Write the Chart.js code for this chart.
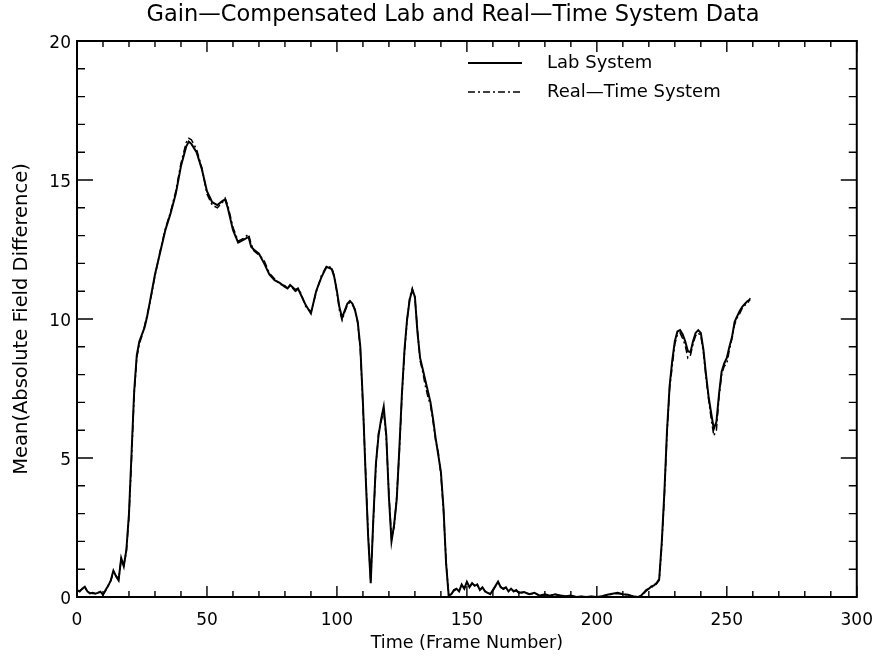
<!DOCTYPE html>
<html><head><meta charset="utf-8">
<script src="https://cdn.jsdelivr.net/npm/chart.js@4/dist/chart.umd.min.js"></script>
<style>html,body{margin:0;padding:0;background:#fff;}#wrap{width:886px;height:659px;}</style>
</head><body><div id="wrap"><canvas id="c" width="886" height="659"></canvas></div>
<script>
const chartTitle = 'Gain\u2014Compensated Lab and Real\u2014Time System Data';
const xTitle = 'Time (Frame Number)';
const yTitle = 'Mean(Absolute Field Difference)';
const seriesNames = ['Lab System', 'Real\u2014Time System'];
const xTickValues = [0, 50, 100, 150, 200, 250, 300];
const yTickValues = [0, 5, 10, 15, 20];

const frames = [
  0,1,2,3,4,5,6,7,8,9,
  10,11,12,13,14,15,16,17,18,19,
  20,21,22,23,24,25,26,27,28,30,
  32,34,36,38,40,42,43,44,46,48,
  50,52,54,56,57,58,60,62,64,66,
  67,68,70,72,74,76,78,80,81,82,
  84,85,86,88,90,92,94,96,98,99,
  100,101,102,103,104,105,106,107,108,109,
  110,111,112,113,114,115,116,117,118,119,
  120,121,122,123,124,125,126,127,128,129,
  130,131,132,133,134,135,136,137,138,139,
  140,141,142,143,144,145,146,147,148,149,
  150,151,152,153,154,155,156,157,158,159,
  160,161,162,163,164,165,166,167,168,169,
  170,172,174,176,178,180,182,184,186,188,
  190,192,194,196,198,200,202,204,206,208,
  210,212,214,216,217,218,219,220,221,222,
  223,224,225,226,227,228,229,230,231,232,
  233,234,235,236,237,238,239,240,241,242,
  243,244,245,246,247,248,249,250,251,252,
  253,254,255,256,257,258,259
];

const labSystem = [
  0.25,0.2,0.3,0.37,0.2,0.13,0.15,0.12,0.15,0.19,
  0.08,0.25,0.4,0.6,0.95,0.75,0.6,1.4,1.1,1.7,
  3.0,5.2,7.4,8.7,9.2,9.45,9.7,10.1,10.6,11.6,
  12.4,13.2,13.8,14.5,15.5,16.2,16.38,16.3,16.0,15.4,
  14.6,14.2,14.1,14.25,14.3,14.0,13.2,12.75,12.85,12.95,
  12.6,12.5,12.35,12.0,11.6,11.4,11.3,11.15,11.1,11.22,
  11.05,11.1,10.9,10.5,10.2,11.0,11.5,11.88,11.8,11.5,
  11.0,10.4,10.05,10.3,10.55,10.65,10.55,10.3,9.9,9.0,
  7.0,4.5,2.2,0.5,2.8,4.8,5.8,6.4,6.85,5.8,
  3.6,2.0,2.6,3.5,5.3,7.3,8.9,10.0,10.7,11.05,
  10.8,9.5,8.6,8.2,7.8,7.4,7.0,6.4,5.7,5.1,
  4.5,3.2,1.2,0.05,0.1,0.25,0.3,0.2,0.45,0.3,
  0.55,0.35,0.5,0.4,0.45,0.25,0.35,0.2,0.15,0.1,
  0.25,0.4,0.55,0.35,0.3,0.35,0.2,0.3,0.2,0.25,
  0.15,0.18,0.1,0.15,0.05,0.1,0.05,0.1,0.05,0.03,
  0.05,0.0,0.02,0.0,0.02,0.0,0.03,0.08,0.12,0.15,
  0.1,0.08,0.02,0.0,0.05,0.15,0.25,0.3,0.38,0.42,
  0.5,0.65,2.0,3.8,6.0,7.6,8.5,9.2,9.55,9.6,
  9.45,9.2,8.85,8.8,9.2,9.5,9.6,9.5,8.9,8.0,
  7.2,6.6,6.05,6.3,7.3,8.1,8.4,8.6,9.0,9.35,
  9.9,10.1,10.3,10.45,10.55,10.65,10.7
];

const realTimeSystem = [
  0.22,0.22,0.28,0.35,0.18,0.15,0.13,0.14,0.16,0.17,
  0.1,0.22,0.42,0.58,0.9,0.78,0.62,1.35,1.15,1.65,
  2.9,5.0,7.3,8.6,9.1,9.4,9.75,10.15,10.55,11.55,
  12.45,13.25,13.85,14.6,15.6,16.35,16.5,16.45,16.1,15.45,
  14.5,14.1,14.0,14.2,14.35,14.1,13.3,12.8,12.9,13.05,
  12.7,12.45,12.3,12.1,11.65,11.45,11.25,11.2,11.1,11.2,
  11.0,11.05,10.95,10.45,10.25,10.95,11.55,11.9,11.85,11.55,
  10.95,10.3,9.95,10.25,10.5,10.6,10.5,10.35,9.85,8.9,
  6.9,4.6,2.3,0.6,2.7,4.7,5.9,6.3,6.7,5.7,
  3.7,2.1,2.5,3.6,5.2,7.2,8.8,9.95,10.75,11.1,
  10.75,9.6,8.5,8.1,7.6,7.2,6.9,6.3,5.6,5.2,
  4.4,3.1,1.3,0.05,0.1,0.22,0.28,0.22,0.42,0.32,
  0.5,0.38,0.48,0.42,0.43,0.28,0.33,0.22,0.15,0.12,
  0.22,0.38,0.5,0.38,0.28,0.33,0.22,0.28,0.22,0.22,
  0.15,0.15,0.12,0.12,0.06,0.08,0.06,0.08,0.05,0.03,
  0.04,0.01,0.02,0.01,0.02,0.0,0.03,0.07,0.1,0.13,
  0.1,0.07,0.03,0.0,0.05,0.13,0.22,0.3,0.35,0.4,
  0.48,0.6,1.9,3.7,5.9,7.5,8.3,9.1,9.45,9.5,
  9.3,9.05,8.6,8.7,9.1,9.4,9.5,9.4,8.8,7.9,
  7.1,6.4,5.8,6.0,7.2,8.0,8.3,8.4,8.9,9.3,
  9.8,10.05,10.2,10.4,10.5,10.55,10.75
];

const FONT = 'DejaVu Sans';
const xMinorStep = 10, yMinorStep = 1;
const dashDot = [7, 3, 2, 3];

const frameTicksPlugin = {
  id: 'frameTicks',
  afterDatasetsDraw(chart) {
    const {ctx, chartArea: a, scales: {x, y}} = chart;
    ctx.save();
    ctx.strokeStyle = '#000';
    ctx.lineWidth = 2;
    ctx.strokeRect(a.left, a.top, a.right - a.left, a.bottom - a.top);
    ctx.lineWidth = 1.4;
    ctx.beginPath();
    for (let v = x.min; v <= x.max + 1e-9; v += xMinorStep) {
      const px = x.getPixelForValue(v);
      const L = xTickValues.includes(v) ? 11 : 6;
      ctx.moveTo(px, a.bottom); ctx.lineTo(px, a.bottom - L);
      ctx.moveTo(px, a.top); ctx.lineTo(px, a.top + L);
    }
    for (let v = y.min; v <= y.max + 1e-9; v += yMinorStep) {
      const py = y.getPixelForValue(v);
      const L = yTickValues.includes(v) ? 16 : 8;
      ctx.moveTo(a.left, py); ctx.lineTo(a.left + L, py);
      ctx.moveTo(a.right, py); ctx.lineTo(a.right - L, py);
    }
    ctx.stroke();
    ctx.restore();
  }
};

const titleAndLegendPlugin = {
  id: 'titleAndLegend',
  afterDraw(chart) {
    const {ctx} = chart;
    ctx.save();
    ctx.fillStyle = '#000';
    ctx.textBaseline = 'middle';
    ctx.textAlign = 'center';
    ctx.font = '22.5px "' + FONT + '"';
    ctx.fillText(chartTitle, 453, 15);
    ctx.font = '18px "' + FONT + '"';
    ctx.textAlign = 'left';
    chart.data.datasets.forEach((ds, i) => {
      const yy = 63 + i * 29;
      ctx.strokeStyle = '#000';
      ctx.lineWidth = ds.borderWidth;
      ctx.setLineDash(ds.borderDash || []);
      ctx.beginPath(); ctx.moveTo(468, yy); ctx.lineTo(522, yy); ctx.stroke();
      ctx.setLineDash([]);
      ctx.fillText(ds.label, 547, yy);
    });
    ctx.restore();
  }
};

const toPoints = vals => frames.map((f, i) => ({x: f, y: vals[i]}));

new Chart(document.getElementById('c'), {
  type: 'line',
  data: {
    datasets: [
      {label: seriesNames[0], data: toPoints(labSystem), borderColor: '#000', borderWidth: 2, pointRadius: 0, tension: 0, fill: false},
      {label: seriesNames[1], data: toPoints(realTimeSystem), borderColor: '#000', borderWidth: 1.5, borderDash: dashDot, pointRadius: 0, tension: 0, fill: false}
    ]
  },
  options: {
    responsive: false,
    animation: false,
    devicePixelRatio: 1,
    layout: {padding: {left: 0, right: 24, top: 41, bottom: 0}},
    plugins: {
      legend: {display: false},
      tooltip: {enabled: false},
      title: {display: false}
    },
    scales: {
      x: {
        type: 'linear', min: 0, max: 300,
        afterBuildTicks: s => { s.ticks = xTickValues.map(v => ({value: v})); },
        afterFit: s => { s.height = 62; },
        grid: {display: false, drawTicks: false},
        border: {display: false},
        ticks: {color: '#000', padding: 13, maxRotation: 0, font: {family: FONT, size: 17}},
        title: {display: true, text: xTitle, color: '#000', font: {family: FONT, size: 17.5}, padding: {top: 0, bottom: 5}}
      },
      y: {
        type: 'linear', min: 0, max: 20,
        afterBuildTicks: s => { s.ticks = yTickValues.map(v => ({value: v})); },
        afterFit: s => { s.width = 77; },
        grid: {display: false, drawTicks: false},
        border: {display: false},
        ticks: {color: '#000', padding: 6, labelOffset: 3, font: {family: FONT, size: 17}},
        title: {display: true, text: yTitle, color: '#000', font: {family: FONT, size: 19.5}, padding: {top: 10, bottom: 0}}
      }
    }
  },
  plugins: [frameTicksPlugin, titleAndLegendPlugin]
});
</script>
</body></html>
